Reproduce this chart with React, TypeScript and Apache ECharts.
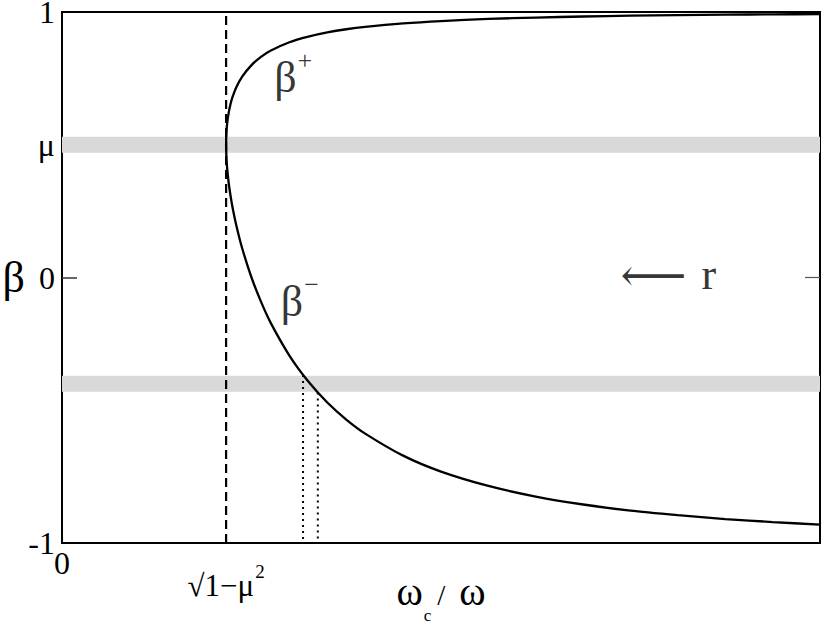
import React, { useEffect, useRef } from "react";
import * as echarts from "echarts";

// x = omega_c / omega
const xs = [0.866, 0.868, 0.872, 0.88, 0.89, 0.9, 0.92, 0.95, 1.0, 1.05, 1.1, 1.2, 1.3, 1.4, 1.5, 1.6, 1.8, 2.0, 2.25, 2.5, 2.75, 3.0, 3.25, 3.5, 3.75, 4.0];
const betaPlus = [0.5, 0.549, 0.583, 0.622, 0.655, 0.68, 0.717, 0.756, 0.8, 0.831, 0.854, 0.886, 0.907, 0.923, 0.935, 0.944, 0.957, 0.966, 0.974, 0.979, 0.983, 0.986, 0.988, 0.99, 0.991, 0.992];
const betaMinus = [0.5, 0.448, 0.407, 0.354, 0.305, 0.264, 0.196, 0.112, 0.0, -0.091, -0.169, -0.294, -0.392, -0.471, -0.535, -0.588, -0.671, -0.731, -0.785, -0.825, -0.855, -0.878, -0.895, -0.91, -0.921, -0.931];

const criticalX = [0.866]; // sqrt(1 - mu^2)
const bandCenters = [0.5, -0.4];
const bandHalf = [0.03, 0.03];
const dottedX = [1.272, 1.35];
const dottedTop = [-0.367, -0.433];

const yTickValues = [-1, 0, 0.5, 1];
const yTickLabels = ["-1", "0", "μ", "1"];
const xTickValues = [0, 0.866];
const xTickLabels = ["{z|0}", "{s|√1−μ}{p|2}"];

const annX = [1.22, 1.255, 3.2];
const annY = [0.765, -0.08, 0.0];
const annText = ["{b|β}{sup|+}", "{b|β}{sup|−}", "{arr|⟵}{sp|}{r|r}"];

const SERIF = "'Liberation Serif', 'DejaVu Serif', serif";

export default function App() {
  const ref = useRef<HTMLDivElement>(null);
  useEffect(() => {
    if (!ref.current) return;
    const chart = echarts.init(ref.current, undefined, { renderer: "svg" });
    const curve: any[] = [];
    for (let i = xs.length - 1; i >= 0; i--) curve.push([xs[i], betaPlus[i]]);
    for (let i = 1; i < xs.length; i++) curve.push([xs[i], betaMinus[i]]);

    const dottedSeries = dottedX.map((x, i) => ({
      type: "line",
      data: [[x, dottedTop[i]], [x, -1]],
      showSymbol: false,
      silent: true,
      z: 1,
      lineStyle: { color: "#000", width: 2, type: [2, 4] },
    }));

    chart.setOption({
      animation: false,
      backgroundColor: "#fff",
      grid: {
        left: 62, right: 10, top: 12, bottom: 81,
        show: true, borderColor: "#000", borderWidth: 2,
        containLabel: false, outerBoundsMode: "none",
      },
      xAxis: {
        type: "value", min: 0, max: 4,
        axisLine: { show: false },
        axisTick: { show: false },
        splitLine: { show: false },
        axisLabel: {
          customValues: xTickValues,
          margin: 4,
          formatter: (v: number) => xTickLabels[xTickValues.indexOf(v)] ?? "",
          rich: {
            z: { fontFamily: SERIF, fontSize: 32, color: "#000", lineHeight: 31 },
            s: { fontFamily: SERIF, fontSize: 31, color: "#000", lineHeight: 76 },
            p: { fontFamily: SERIF, fontSize: 19, color: "#000", lineHeight: 19, verticalAlign: "top", padding: [15, 0, 0, 1] },
          },
        },
        name: "{w|ω}{c|c}{sl|/}{w|ω}",
        nameLocation: "middle",
        nameGap: 28,
        nameMoveOverlap: false,
        nameTextStyle: {
          rich: {
            w: { fontFamily: SERIF, fontSize: 40, color: "#000", verticalAlign: "top" },
            c: { fontFamily: SERIF, fontSize: 17, color: "#000", verticalAlign: "top", padding: [36, 0, 0, 1] },
            sl: { fontFamily: SERIF, fontSize: 29, color: "#000", verticalAlign: "top", padding: [9, 14, 0, 6] },
          },
        },
      },
      yAxis: [
        {
          type: "value", min: -1, max: 1,
          axisLine: { show: false },
          splitLine: { show: false },
          axisTick: { customValues: [0], inside: true, length: 15, lineStyle: { color: "#333", width: 1.5 } },
          axisLabel: {
            customValues: yTickValues,
            margin: 7,
            fontFamily: SERIF, fontSize: 32, color: "#000", lineHeight: 20,
            formatter: (v: number) => yTickLabels[yTickValues.indexOf(v)] ?? "",
          },
          name: "β",
          nameLocation: "middle",
          nameRotate: 0,
          nameGap: 37,
          nameMoveOverlap: false,
          nameTextStyle: { fontFamily: SERIF, fontSize: 44, color: "#000", lineHeight: 40, padding: [0, 0, 10, 0] },
        },
        {
          type: "value", min: -1, max: 1, position: "right",
          axisLine: { show: false },
          splitLine: { show: false },
          axisLabel: { show: false },
          axisTick: { customValues: [0], inside: true, length: 15, lineStyle: { color: "#555", width: 1.2 } },
        },
      ],
      series: [
        ...dottedSeries,
        {
          type: "line",
          data: [[0, bandCenters[0]], [4, bandCenters[0]]],
          showSymbol: false,
          silent: true,
          lineStyle: { width: 0, opacity: 0 },
          z: 2,
          markArea: {
            silent: true,
            itemStyle: { color: "#d9d9d9" },
            data: bandCenters.map((c, i) => [{ yAxis: c + bandHalf[i] }, { yAxis: c - bandHalf[i] }]),
          },
        },
        {
          type: "line",
          data: [[criticalX[0], -1], [criticalX[0], 1]],
          showSymbol: false,
          silent: true,
          z: 3,
          lineStyle: { color: "#000", width: 2.2, type: [9, 5] },
        },
        {
          type: "line",
          data: curve,
          showSymbol: false,
          smooth: 0.25,
          silent: true,
          z: 4,
          lineStyle: { color: "#000", width: 2.3 },
        },
        {
          type: "scatter",
          symbolSize: 0,
          silent: true,
          z: 5,
          data: annX.map((x, i) => ({ value: [x, annY[i]], name: String(i) })),
          label: {
            show: true,
            position: "inside",
            formatter: (p: any) => annText[Number(p.name)],
            rich: {
              b: { fontFamily: SERIF, fontSize: 44, color: "#000", lineHeight: 40, padding: [6, 0, 0, 0] },
              sup: { fontFamily: SERIF, fontSize: 26, color: "#000", lineHeight: 24, padding: [0, 0, 28, 1] },
              arr: { fontFamily: "'DejaVu Serif', serif", fontSize: 46, color: "#000", lineHeight: 40, padding: [0, 0, 6, 0] },
              sp: { width: 15, lineHeight: 40 },
              r: { fontFamily: SERIF, fontSize: 44, color: "#000", lineHeight: 40, padding: [0, 0, 6, 0] },
            },
          },
        },
      ],
    });
    return () => chart.dispose();
  }, []);
  return <div ref={ref} style={{ position: "absolute", left: 0, top: 0, width: 830, height: 624 }} />;
}
